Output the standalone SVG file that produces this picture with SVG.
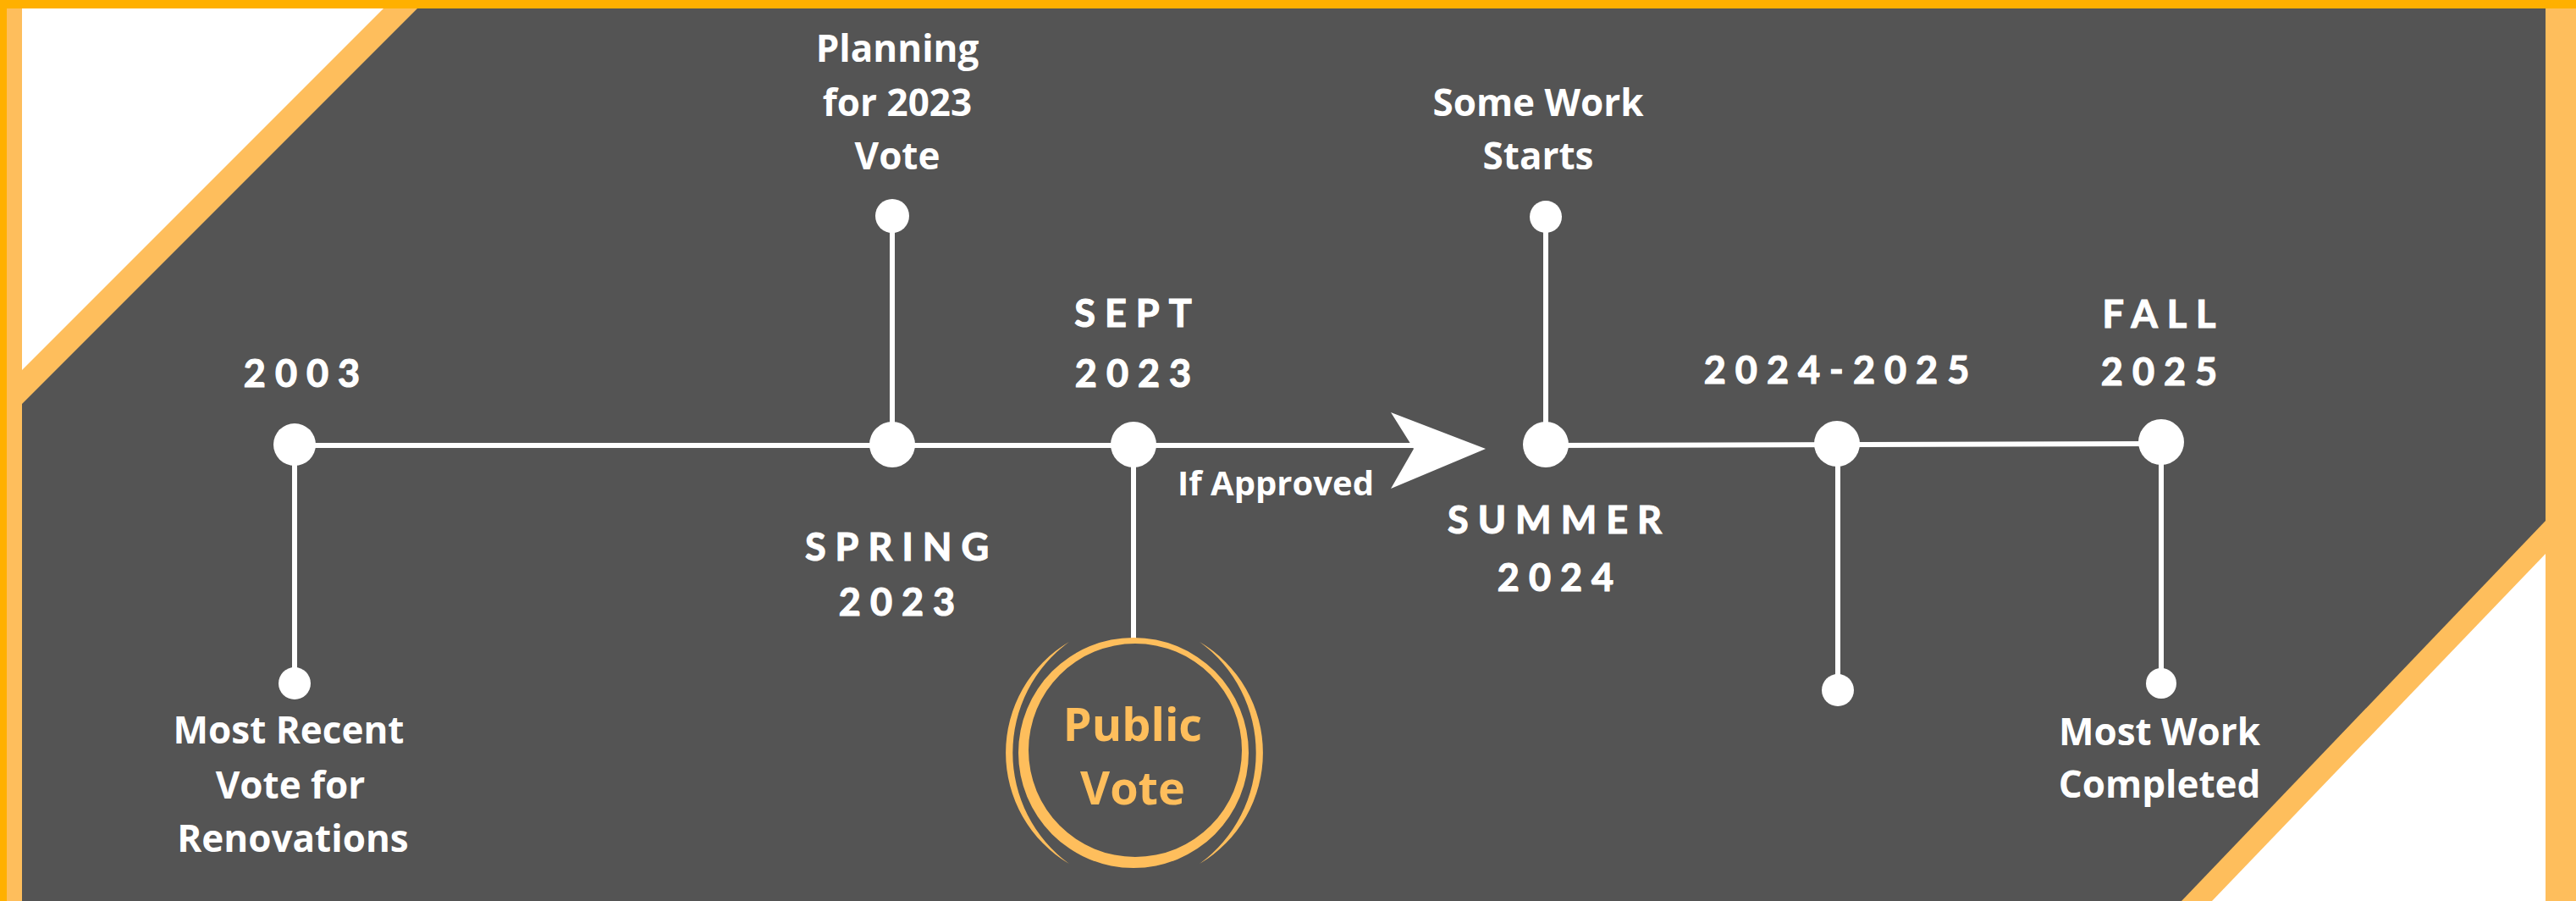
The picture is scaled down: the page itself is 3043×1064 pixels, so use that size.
<svg xmlns="http://www.w3.org/2000/svg" width="3043" height="1064" viewBox="0 0 3043 1064">
<style>
.date{font-family:Lato,"Liberation Sans",sans-serif;font-weight:700;font-size:45px;letter-spacing:11px;fill:#fff;stroke:#fff;stroke-width:1.2px;text-anchor:middle}
.body{font-family:"Open Sans","Liberation Sans",sans-serif;font-weight:700;font-size:44px;fill:#fff;text-anchor:middle}
.pv{font-family:"Open Sans","Liberation Sans",sans-serif;font-weight:700;font-size:54px;fill:#FEBE5C;text-anchor:middle}
.ln{stroke:#fff;stroke-width:6;fill:none}
.big{fill:#fff}
.sm{fill:#fff}
</style>
<g id="background">
<rect x="0" y="0" width="3043" height="1064" fill="#FFB000"/>
<rect x="8" y="10" width="3035" height="1054" fill="#FEBE5C"/>
<polygon points="26,10 453,10 26,437" fill="#fff"/>
<polygon points="493,10 3007,10 3007,615 2577,1064 26,1064 26,477" fill="#545454"/>
<polygon points="3007,654 3007,1064 2613,1064" fill="#fff"/>
</g>
<g id="connectors">
<line class="ln" x1="348" y1="526" x2="1672" y2="526"/>
<polygon points="1643,487 1755,530 1643,577 1670,530" fill="#fff"/>
<line class="ln" x1="1826" y1="526" x2="2553" y2="524"/>
<line class="ln" x1="348" y1="526" x2="348" y2="807"/>
<line class="ln" x1="1054" y1="526" x2="1054" y2="255"/>
<line class="ln" x1="1339" y1="526" x2="1339" y2="755"/>
<line class="ln" x1="1826" y1="526" x2="1826" y2="256"/>
<line class="ln" x1="2171" y1="526" x2="2171" y2="815"/>
<line class="ln" x1="2553" y1="524" x2="2553" y2="807"/>
</g>
<g id="node-2003">
<circle class="big" cx="348" cy="525" r="25"/>
<circle class="sm" cx="348" cy="807" r="19"/>
<text class="date" x="362" y="457">2003</text>
<text class="body" x="341" y="878">Most Recent</text>
<text class="body" x="343" y="943">Vote for</text>
<text class="body" x="346" y="1006">Renovations</text>
</g>
<g id="node-spring-2023">
<circle class="big" cx="1054" cy="525" r="27"/>
<circle class="sm" cx="1054" cy="255" r="20"/>
<text class="body" x="1060" y="73">Planning</text>
<text class="body" x="1060" y="137">for 2023</text>
<text class="body" x="1060" y="200">Vote</text>
<text class="date" x="1065" y="662">SPRING</text>
<text class="date" x="1065" y="727">2023</text>
</g>
<g id="node-sept-2023">
<circle class="big" cx="1339" cy="525" r="27"/>
<text class="date" x="1344" y="386">SEPT</text>
<text class="date" x="1344" y="457">2023</text>
</g>
<g id="node-public-vote">
<path fill="#FEBE5C" fill-rule="evenodd" d="M1203,889 a136,136 0 1,0 272,0 a136,136 0 1,0 -272,0 Z M1215,886 a126,126 0 1,0 252,0 a126,126 0 1,0 -252,0 Z"/>
<path fill="#FEBE5C" d="M1263,758 A152,152 0 0,0 1263,1020 A162,162 0 0,1 1263,758 Z"/>
<path fill="#FEBE5C" d="M1417,758 A152,152 0 0,1 1417,1020 A162,162 0 0,0 1417,758 Z"/>
<text class="pv" x="1338" y="875">Public</text>
<text class="pv" x="1338" y="950">Vote</text>
</g>
<g id="label-if-approved">
<text class="body" x="1507" y="585" style="font-size:40px">If Approved</text>
</g>
<g id="node-summer-2024">
<circle class="big" cx="1826" cy="525" r="27"/>
<circle class="sm" cx="1826" cy="256" r="19"/>
<text class="body" x="1817" y="137">Some Work</text>
<text class="body" x="1817" y="200">Starts</text>
<text class="date" x="1842" y="630">SUMMER</text>
<text class="date" x="1843" y="698">2024</text>
</g>
<g id="node-2024-2025">
<circle class="big" cx="2170" cy="524" r="27"/>
<circle class="sm" cx="2171" cy="815" r="19"/>
<text class="date" x="2175" y="453">2024-2025</text>
</g>
<g id="node-fall-2025">
<circle class="big" cx="2553" cy="522" r="27"/>
<circle class="sm" cx="2553" cy="807" r="18"/>
<text class="date" x="2556" y="387">FALL</text>
<text class="date" x="2556" y="455">2025</text>
<text class="body" x="2551" y="880">Most Work</text>
<text class="body" x="2551" y="942">Completed</text>
</g>
</svg>
